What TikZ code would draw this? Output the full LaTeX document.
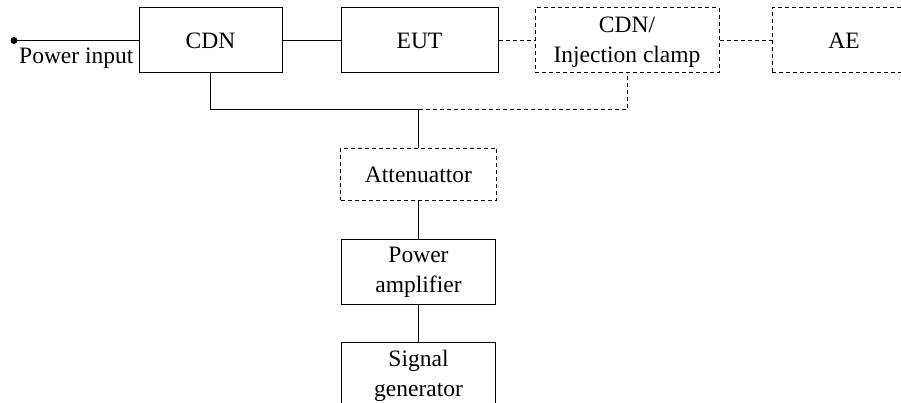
\documentclass[tikz,border=0pt]{standalone}
\usepackage{fontspec}
\setmainfont{Liberation Serif}
\usetikzlibrary{positioning}

\begin{document}
\begin{tikzpicture}[x=1pt, y=1pt,
    block/.style={draw, line width=1pt, minimum height=65pt, inner sep=0pt, align=center, font=\fontsize{23.5}{30}\selectfont},
    optblock/.style={block, dash pattern=on 4pt off 3pt},
    wire/.style={line width=1pt},
    optwire/.style={wire, dash pattern=on 4pt off 3pt}
]
\useasboundingbox (0,0) rectangle (901,403);

\node[block, minimum width=143pt] (cdn) at (210.5,362.5) {CDN};
\node[block, minimum width=157pt, right=58pt of cdn] (eut) {EUT};
\node[optblock, minimum width=184pt, right=36pt of eut, text depth=2pt] (clamp) {CDN/\\Injection clamp};
\node[optblock, minimum width=144pt, right=52pt of clamp] (ae) {AE};

\node[circle, fill, inner sep=0pt, minimum size=7pt] (pin) at (14,362.5) {};
\node[anchor=base west, inner sep=0pt, font=\fontsize{23.5}{30}\selectfont] (pwr) at (19,339) {Power input};

\coordinate (jn) at (418.5,293);
\node[optblock, minimum width=156pt, minimum height=52pt, below=38pt of jn] (att) {Attenuattor};
\node[block, minimum width=154pt, below=38pt of att] (amp) {Power\\amplifier};
\node[block, minimum width=154pt, minimum height=66pt, below=37pt of amp] (sig) {Signal\\generator};

\draw[wire] (pin.center) -- (cdn.west);
\draw[wire] (cdn) -- (eut);
\draw[optwire] (eut) -- (clamp);
\draw[optwire] (clamp) -- (ae);
\draw[wire] (cdn.south) |- (jn);
\draw[optwire] (jn) -| (clamp.south);
\draw[wire] (jn) -- (att);
\draw[wire] (att) -- (amp);
\draw[wire] (amp) -- (sig);

\end{tikzpicture}
\end{document}
